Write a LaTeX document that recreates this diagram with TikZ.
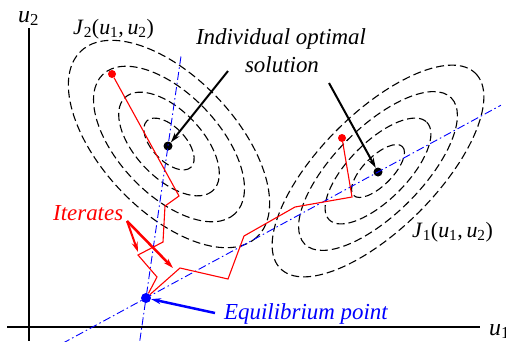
\documentclass[tikz,border=0pt]{standalone}
\usepackage{fontspec}
\setmainfont{Liberation Serif}
\usetikzlibrary{arrows.meta,calc}
\newcommand{\uu}[1]{\textit{u}\textsubscript{#1}}
\begin{document}
\begin{tikzpicture}[x=1bp,y=-1bp,
  axis/.style={line width=2bp},
  lev/.style={line width=1.1bp, dash pattern=on 8bp off 4bp},
  react/.style={blue, line width=0.9bp, dash pattern=on 8bp off 3bp on 1.5bp off 3bp},
  iter/.style={red, line width=1.1bp},
  dot/.style={circle, inner sep=0pt, minimum size=#1},
  ptr/.style={line width=2bp, -{Stealth[length=10bp,width=6bp]}},
  lbl/.style={font=\fontsize{22}{26}\selectfont, inner sep=0pt, anchor=base west},
  ilbl/.style={font=\fontsize{23}{27}\selectfont\itshape, inner sep=0pt},
  lblc/.style={ilbl, anchor=base}
]
\useasboundingbox (0,0) rectangle (506,341);
% axes
\draw[axis] (29,28) -- (29,341);
\draw[axis] (7,327) -- (480,327);
\node[lbl, font=\fontsize{24}{28}\selectfont] (lu2) at (18,22) {\uu{2}};
\node[lbl, font=\fontsize{24}{28}\selectfont] (lu1) at (489,335) {\uu{1}};
% level sets
\foreach \k in {1,2,3,4}
  \draw[lev, shift={(169,144)}, rotate=-46.5] (0,0) ellipse [x radius=\k*32, y radius=\k*16.75];
\foreach \k in {1,2,3,4}
  \draw[lev, shift={(378,171)}, rotate=45] (0,0) ellipse [x radius=\k*34.5, y radius=\k*14.5];
% points
\node[dot=9bp, fill=black] (c2) at (168,146) {};
\node[dot=9bp, fill=black] (c1) at (378,172) {};
\node[dot=10bp, fill=blue] (eq) at (146,298) {};
\node[dot=8bp, fill=red] (s2) at (112,74) {};
\node[dot=8bp, fill=red] (s1) at (342,138) {};
% reaction lines
\draw[react] ($(eq)!-0.28!(c2)$) -- ($(eq)!1.6!(c2)$);
\draw[react] ($(eq)!-0.36!(c1)$) -- ($(eq)!1.53!(c1)$);
% iterates
\draw[iter] (s2) -- (179,196) -- (165,206) -- (163,242) -- (138,255) -- (157,277) -- (eq);
\draw[iter] (s1) -- (352,197) -- (295,207) -- (244,236) -- (228,279) -- (180,268) -- (eq);
% labels
\node[lbl] (j2) at (73,34) {\textit{J}\textsubscript{2}(\uu{1},\,\uu{2})};
\node[lbl] (j1) at (412,237) {\textit{J}\textsubscript{1}(\uu{1},\,\uu{2})};
\node[lblc] (ind1) at (281,44) {Individual optimal};
\node[lblc] (ind2) at (282,72) {solution};
\node[ilbl, red, anchor=base west] (it) at (53,220) {Iterates};
\node[ilbl, blue, anchor=base west] (eql) at (224,319) {Equilibrium point};
% pointers
\coordinate (a2) at (228,71);
\coordinate (a1) at (329,83);
\draw[ptr] (a2) -- (c2);
\draw[ptr] (a1) -- (c1);
\coordinate (ia) at (127,221);
\coordinate (ib) at (138,252);
\coordinate (ic) at (173,268);
\draw[ptr, red] (ia) -- (ib);
\draw[ptr, red, line width=2.5bp] (ia) -- (ic);
\coordinate (ea) at (215,313);
\draw[ptr, blue, line width=2.5bp] (ea) -- (eq);
\end{tikzpicture}
\end{document}
